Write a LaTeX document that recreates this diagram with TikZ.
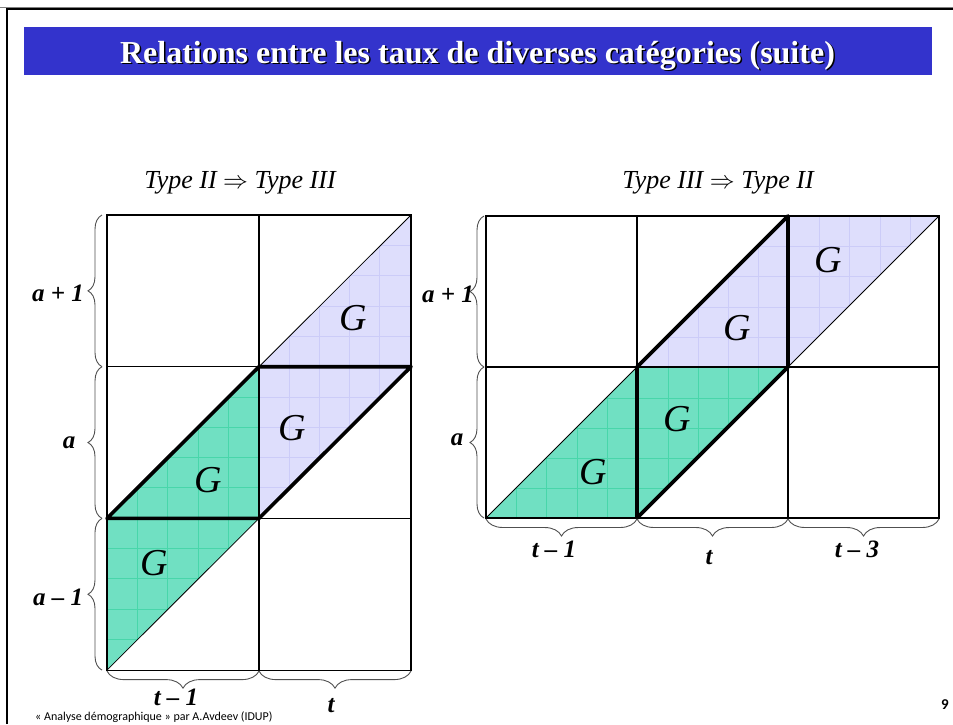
\documentclass[tikz,border=0pt]{standalone}
\usepackage{fontspec}
\setmainfont{Liberation Serif}
\newfontfamily\footfont{Carlito}
\usetikzlibrary{decorations.pathreplacing}
\definecolor{titleblue}{RGB}{51,51,204}
\definecolor{gfill}{RGB}{112,224,194}
\definecolor{gline}{RGB}{72,214,170}
\definecolor{pfill}{RGB}{222,222,252}
\definecolor{pline}{RGB}{204,204,248}
\definecolor{bracegray}{RGB}{80,80,80}

\tikzset{
  cell/.style={draw=black, line width=1.2pt},
  outline/.style={line width=3.6pt, line join=round},
  diag/.style={line width=0.8pt},
  lab/.style={font=\fontsize{25}{25}\selectfont\bfseries\itshape},
  glab/.style={font=\fontsize{38}{38}\selectfont\itshape},
  head/.style={font=\fontsize{26}{26}\selectfont\itshape, anchor=base},
  rowbrace/.style={decorate, decoration={brace, amplitude=14pt}, draw=bracegray, line width=0.9pt},
  colbrace/.style={decorate, decoration={brace, amplitude=17pt}, draw=bracegray, line width=0.9pt},
}
% fine grid inside a shaded band: x0, y0, width, height
\newcommand{\finegrid}[4]{%
  \foreach \k in {0,...,15} \draw (#1+30.3*\k,#2) -- ++(0,#4);
  \foreach \k in {0,...,15} \draw (#1,#2+30.3*\k) -- ++(#3,0);
}

\begin{document}
\begin{tikzpicture}[x=1pt, y=-1pt]
    \useasboundingbox (0,0) rectangle (953,724);

    % slide frame and title
    \draw[gray, line width=1pt] (0,7) -- (953,7);
    \draw[line width=2.6pt] (7,724) -- (7,9) -- (953,9);
    \fill[titleblue] (24,27) rectangle (932,75);
    \node[anchor=base, text=black, font=\fontsize{32}{32}\selectfont\bfseries] (titleshadow) at (479,64.5) {Relations entre les taux de diverses catégories (suite)};
    \node[anchor=base, text=white, font=\fontsize{32}{32}\selectfont\bfseries] (title) at (477.5,63) {Relations entre les taux de diverses catégories (suite)};

    % grid corners
    \foreach \c in {0,1,2}
      \foreach \r in {0,1,2,3}
        \coordinate (l\c\r) at (107+152*\c, 215+151.7*\r);
    \foreach \c in {0,1,2,3}
      \foreach \r in {0,1,2}
        \coordinate (r\c\r) at (486+151*\c, 216+151*\r);

    % shaded bands
    \begin{scope}
      \clip (l03) -- (l02) -- (l11) -- (l12) -- cycle;
      \fill[gfill] (l01) rectangle (l13);
      \begin{scope}[gline, line width=0.6pt] \finegrid{107}{215}{304}{455} \end{scope}
    \end{scope}
    \begin{scope}
      \clip (l12) -- (l11) -- (l20) -- (l21) -- cycle;
      \fill[pfill] (l10) rectangle (l22);
      \begin{scope}[pline, line width=0.6pt] \finegrid{107}{215}{304}{455} \end{scope}
    \end{scope}
    \begin{scope}
      \clip (r02) -- (r11) -- (r21) -- (r12) -- cycle;
      \fill[gfill] (r01) rectangle (r22);
      \begin{scope}[gline, line width=0.6pt] \finegrid{486}{216}{453}{302} \end{scope}
    \end{scope}
    \begin{scope}
      \clip (r11) -- (r20) -- (r30) -- (r21) -- cycle;
      \fill[pfill] (r10) rectangle (r31);
      \begin{scope}[pline, line width=0.6pt] \finegrid{486}{216}{453}{302} \end{scope}
    \end{scope}

    % cells
    \foreach \c in {0,1}
      \foreach \r in {0,1,2}
        \draw[cell] (107+152*\c, 215+151.7*\r) rectangle ++(152,151.7);
    \foreach \c in {0,1,2}
      \foreach \r in {0,1}
        \draw[cell] (486+151*\c, 216+151*\r) rectangle ++(151,151);

    % diagonals
    \draw[diag] (l03) -- (l12);
    \draw[diag] (l11) -- (l20);
    \draw[diag] (r02) -- (r11);
    \draw[diag] (r21) -- (r30);

    % thick outlines
    \draw[outline] (l02) -- (l11) -- (l21) -- (l12) -- cycle;
    \draw[outline] (r12) -- (r11) -- (r20) -- (r21) -- cycle;

    % braces
    \draw[rowbrace] ([xshift=-5pt]l03) -- ([xshift=-5pt]l02);
    \draw[rowbrace] ([xshift=-5pt]l02) -- ([xshift=-5pt]l01);
    \draw[rowbrace] ([xshift=-5pt]l01) -- ([xshift=-5pt]l00);
    \draw[colbrace] ([yshift=-1pt]l13) -- ([yshift=-1pt]l03);
    \draw[colbrace] ([yshift=-1pt]l23) -- ([yshift=-1pt]l13);
    \draw[rowbrace] ([xshift=-2pt]r02) -- ([xshift=-2pt]r01);
    \draw[rowbrace] ([xshift=-2pt]r01) -- ([xshift=-2pt]r00);
    \draw[colbrace] ([yshift=-1pt]r12) -- ([yshift=-1pt]r02);
    \draw[colbrace] ([yshift=-1pt]r22) -- ([yshift=-1pt]r12);
    \draw[colbrace] ([yshift=-1pt]r32) -- ([yshift=-1pt]r22);

    % headings
    \node[head] (headL) at (240,188) {Type II $\Rightarrow$ Type III};
    \node[head] (headR) at (718,188) {Type III $\Rightarrow$ Type II};

    % axis labels
    \node[lab] (ageLtop) at (58,293) {a + 1};
    \node[lab] (ageLmid) at (69,443) {a};
    \node[lab] (ageLbot) at (58,597) {a – 1};
    \node[lab, inner sep=1pt] (timeL1) at (176,697) {t – 1};
    \node[lab] (timeL2) at (331,706) {t};
    \node[lab] (ageRtop) at (448,294) {a + 1};
    \node[lab] (ageRmid) at (457,440) {a};
    \node[lab] (timeR1) at (554,549) {t – 1};
    \node[lab] (timeR2) at (709,558) {t};
    \node[lab] (timeR3) at (857,549) {t – 3};

    % G labels
    \node[glab] (gL1) at (353,318) {G};
    \node[glab] (gL2) at (292,428) {G};
    \node[glab] (gL3) at (208,480) {G};
    \node[glab] (gL4) at (154,563) {G};
    \node[glab] (gR1) at (828,260) {G};
    \node[glab] (gR2) at (737,328) {G};
    \node[glab] (gR3) at (677,419) {G};
    \node[glab] (gR4) at (593,472) {G};

    % footer
    \node[anchor=base west, font=\footfont\fontsize{12}{12}\selectfont, inner sep=0pt] (footer) at (35,720) {« Analyse démographique » par A.Avdeev (IDUP)};
    \node[font=\footfont\fontsize{15}{15}\selectfont\bfseries] (pagenum) at (945,705) {9};
\end{tikzpicture}
\end{document}
